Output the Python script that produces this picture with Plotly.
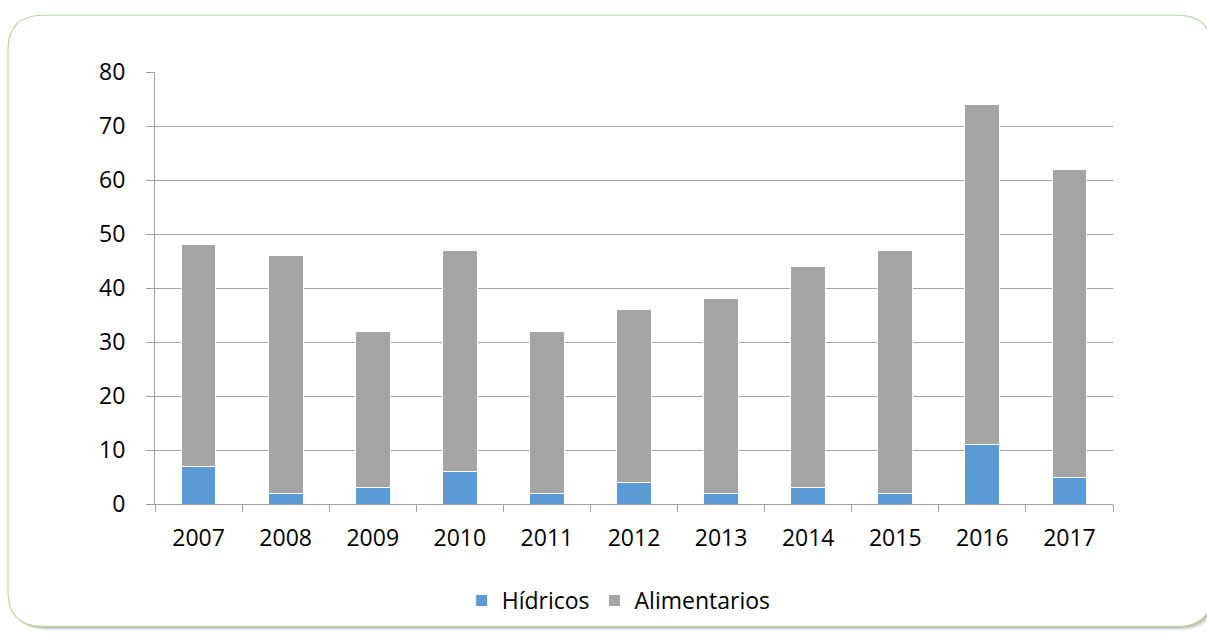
import plotly.graph_objects as go

# Outbreak counts per year, split by transmission route
years = ["2007", "2008", "2009", "2010", "2011", "2012", "2013", "2014", "2015", "2016", "2017"]
hidricos = [7, 2, 3, 6, 2, 4, 2, 3, 2, 11, 5]
alimentarios = [41, 44, 29, 41, 30, 32, 36, 41, 45, 63, 57]

W, H = 1207, 634
ML, MR, MT, MB = 155, 94, 72, 128
PW, PH = W - ML - MR, H - MT - MB

FONT = "Open Sans"
GRID = "#a3a3a3"


def px_x(px):
    return (px - ML) / PW


def px_y(py):
    return (H - MB - py) / PH


def rounded_rect(x0, y0, x1, y1, r):
    """SVG path (paper coordinates) for a rounded rectangle given in pixels."""
    pts = [
        ("M", x0 + r, y0), ("L", x1 - r, y0), ("Q", x1, y0, x1, y0 + r),
        ("L", x1, y1 - r), ("Q", x1, y1, x1 - r, y1), ("L", x0 + r, y1),
        ("Q", x0, y1, x0, y1 - r), ("L", x0, y0 + r), ("Q", x0, y0, x0 + r, y0),
    ]
    out = []
    for p in pts:
        cmd, coords = p[0], p[1:]
        pairs = []
        for i in range(0, len(coords), 2):
            pairs.append(f"{px_x(coords[i]):.5f},{px_y(coords[i + 1]):.5f}")
        out.append(cmd + " ".join(pairs))
    return " ".join(out) + " Z"


fig = go.Figure()
fig.add_trace(go.Bar(
    x=years, y=hidricos, name="Hídricos",
    marker=dict(color="#5b9bd5", line=dict(color="white", width=1)),
))
fig.add_trace(go.Bar(
    x=years, y=alimentarios, name="Alimentarios",
    marker=dict(color="#a5a5a5", line=dict(color="white", width=1)),
))

shapes = []
# soft drop shadow under the card
for i, op in enumerate([0.05, 0.07, 0.09, 0.11]):
    d = 4 - i
    shapes.append(dict(
        type="path", xref="paper", yref="paper", layer="below",
        path=rounded_rect(8 + d, 15 + d, 1212 + d, 629 + d, 35),
        fillcolor=f"rgba(0,0,0,{op})", line=dict(width=0),
    ))
# card with light green border
shapes.append(dict(
    type="path", xref="paper", yref="paper", layer="below",
    path=rounded_rect(8, 15, 1212, 629, 35),
    fillcolor="white", line=dict(color="#b9d9a0", width=1.2),
))

fig.update_layout(
    width=W, height=H,
    margin=dict(l=ML, r=MR, t=MT, b=MB),
    barmode="stack",
    bargap=0.6,
    paper_bgcolor="white",
    plot_bgcolor="rgba(0,0,0,0)",
    font=dict(family=FONT, size=23, color="black"),
    shapes=shapes,
    showlegend=True,
    legend=dict(
        orientation="h", x=0.484, xanchor="center", y=px_y(603), yanchor="middle",
        font=dict(family=FONT, size=23, color="black"),
        traceorder="normal", itemwidth=30, bgcolor="rgba(0,0,0,0)",
    ),
)
fig.update_xaxes(
    type="category",
    showgrid=False,
    showline=True, linecolor=GRID, linewidth=1,
    ticks="outside", tickson="boundaries", ticklen=7, tickcolor=GRID,
    ticklabelstandoff=13,
    tickfont=dict(family=FONT, size=23),
)
fig.update_yaxes(
    range=[0, 80], dtick=10,
    showgrid=True, gridcolor=GRID, gridwidth=1,
    showline=True, linecolor=GRID, linewidth=1,
    ticks="outside", ticklen=8, tickcolor=GRID,
    ticklabelstandoff=16,
    zeroline=False,
    tickfont=dict(family=FONT, size=23),
)

fig.write_html("out.html")
